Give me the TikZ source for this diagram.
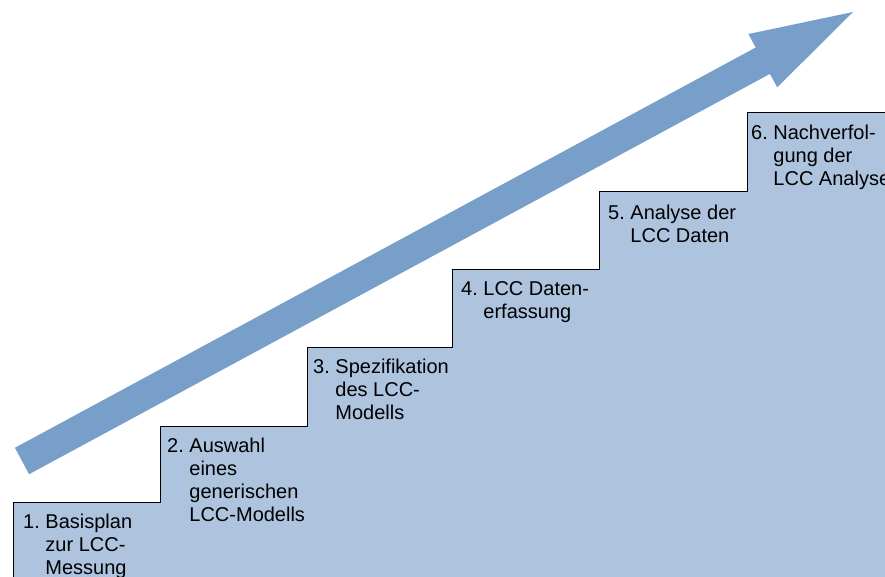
\documentclass[tikz,border=0pt]{standalone}
\usepackage{fontspec}
\setmainfont{Liberation Sans}
\definecolor{stepfill}{HTML}{ADC3DE}
\definecolor{arrowfill}{HTML}{789FCA}
\begin{document}
\begin{tikzpicture}[x=1pt,y=-1pt,
  steplabel/.style={anchor=base west, inner sep=0pt, align=left,
    font=\fontsize{20}{23.3}\selectfont}]
\useasboundingbox (0,0) rectangle (885,576);
% staircase
\draw[fill=stepfill, line width=1pt]
  (13,590) -- (13,502) -- (160,502) -- (160,426) -- (307,426) -- (307,347)
  -- (452,347) -- (452,269) -- (599,269) -- (599,191) -- (747,191)
  -- (747,112) -- (900,112) -- (900,590) -- cycle;
% rising arrow
\fill[arrowfill] (14.9,447.8) -- (755.7,47.5) -- (748.4,34.0) -- (853,12)
  -- (777.2,87.4) -- (769.9,73.9) -- (29.1,474.2) -- cycle;
% step labels (base anchor sits on the last line)
\node[steplabel] (s1) at (23,574.6) {1.\ Basisplan\\\hphantom{1.\ }zur LCC-\\\hphantom{1.\ }Messung};
\node[steplabel] (s2) at (167,521.9) {2.\ Auswahl\\\hphantom{2.\ }eines\\\hphantom{2.\ }generischen\\\hphantom{2.\ }LCC-Modells};
\node[steplabel] (s3) at (313,419.6) {3.\ Spezifikation\\\hphantom{3.\ }des LCC-\\\hphantom{3.\ }Modells};
\node[steplabel] (s4) at (461,318.3) {4.\ LCC Daten-\\\hphantom{4.\ }erfassung};
\node[steplabel] (s5) at (608,242.3) {5.\ Analyse der\\\hphantom{5.\ }LCC Daten};
\node[steplabel] (s6) at (751,185.6) {6.\ Nachverfol-\\\hphantom{6.\ }gung der\\\hphantom{6.\ }LCC Analyse};
\end{tikzpicture}
\end{document}
